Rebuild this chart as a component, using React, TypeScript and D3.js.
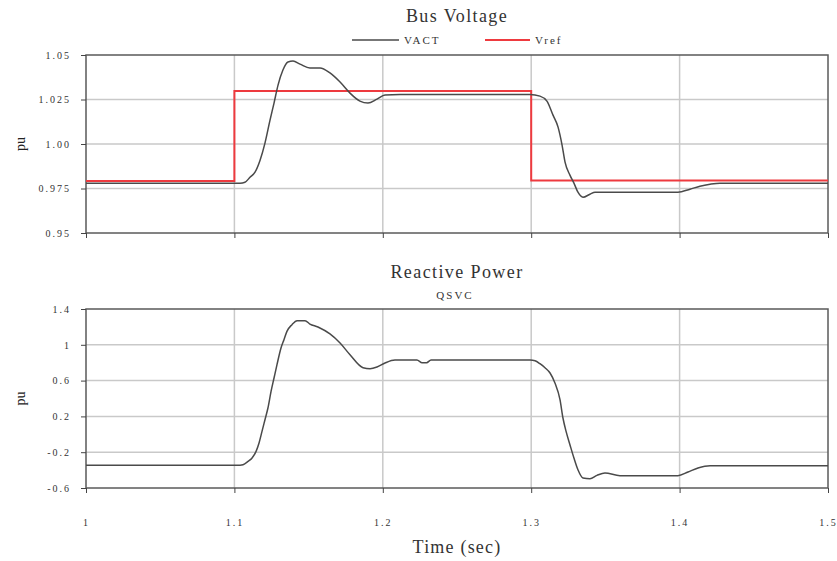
import React, { useRef, useEffect } from "react";
import * as d3 from "d3";

// time (s) / value (pu) pairs
const vactTime = [1.0, 1.1038, 1.1071, 1.1105, 1.1139, 1.1173, 1.1206, 1.124, 1.1267, 1.1294, 1.1327, 1.1361, 1.1395, 1.1442, 1.1509, 1.1577, 1.1644, 1.1712, 1.1779, 1.1846, 1.19, 1.1961, 1.2015, 1.2116, 1.2992, 1.3059, 1.3106, 1.3147, 1.3181, 1.3208, 1.3228, 1.3261, 1.3288, 1.3315, 1.3349, 1.3396, 1.343, 1.3989, 1.407, 1.4137, 1.4205, 1.4272, 1.5];
const vactValues = [0.978, 0.978, 0.9785, 0.9813, 0.9842, 0.9909, 1.0005, 1.0134, 1.023, 1.0331, 1.0416, 1.0461, 1.0466, 1.0449, 1.0427, 1.0427, 1.0399, 1.0348, 1.0286, 1.0241, 1.023, 1.0252, 1.0275, 1.0278, 1.0278, 1.0269, 1.0241, 1.0162, 1.0095, 0.9994, 0.9898, 0.9825, 0.978, 0.9729, 0.9701, 0.9718, 0.9729, 0.9729, 0.9746, 0.9763, 0.9774, 0.978, 0.978];

const vrefTime = [1.0, 1.1, 1.1, 1.3, 1.3, 1.5];
const vrefValues = [0.9792, 0.9792, 1.0298, 1.0298, 0.9795, 0.9795];

const qsvcTime = [1.0, 1.1038, 1.1058, 1.1092, 1.1119, 1.1146, 1.1166, 1.1186, 1.1206, 1.1226, 1.1247, 1.1267, 1.1287, 1.1314, 1.1334, 1.1354, 1.1388, 1.1422, 1.1476, 1.1509, 1.1563, 1.1644, 1.1712, 1.1779, 1.1867, 1.1914, 1.1961, 1.2015, 1.2082, 1.223, 1.2265, 1.2295, 1.2325, 1.2992, 1.3026, 1.3059, 1.3093, 1.3127, 1.316, 1.3194, 1.3214, 1.3235, 1.3261, 1.3288, 1.3315, 1.3349, 1.3396, 1.3443, 1.3497, 1.3598, 1.3989, 1.4057, 1.4124, 1.4205, 1.5];
const qsvcValues = [-0.345, -0.345, -0.34, -0.303, -0.265, -0.191, -0.097, 0.032, 0.163, 0.294, 0.479, 0.629, 0.778, 0.964, 1.057, 1.15, 1.225, 1.269, 1.269, 1.232, 1.199, 1.121, 1.02, 0.889, 0.744, 0.733, 0.752, 0.797, 0.83, 0.83, 0.8, 0.8, 0.83, 0.83, 0.822, 0.789, 0.744, 0.685, 0.573, 0.387, 0.182, 0.032, -0.116, -0.265, -0.396, -0.488, -0.496, -0.459, -0.432, -0.462, -0.462, -0.421, -0.377, -0.351, -0.35];

const timeTicks = [1, 1.1, 1.2, 1.3, 1.4, 1.5];
const timeLabels = ["1", "1.1", "1.2", "1.3", "1.4", "1.5"];
const voltTicks = [0.95, 0.975, 1.0, 1.025, 1.05];
const voltLabels = ["0.95", "0.975", "1.00", "1.025", "1.05"];
const qTicks = [-0.6, -0.2, 0.2, 0.6, 1.0, 1.4];
const qLabels = ["-0.6", "-0.2", "0.2", "0.6", "1", "1.4"];

const serif = "'Liberation Serif', 'DejaVu Serif', serif";

const App = () => {
  const svgRef = useRef<SVGSVGElement>(null);

  useEffect(() => {
    const w = 837;
    const h = 561;
    const left = 86;
    const right = 828;

    const svg = d3.select(svgRef.current).attr("width", w).attr("height", h).style("background", "#fff");
    svg.selectAll("*").remove();

    const x = d3.scaleLinear().domain([1, 1.5]).range([left, right]);

    const panel = (top: number, bottom: number, domain: [number, number], ticks: number[], labels: string[], showX: boolean) => {
      const y = d3.scaleLinear().domain(domain).range([bottom, top]);
      const g = svg.append("g");

      // grid
      g.selectAll(".hgrid")
        .data(ticks.slice(1, -1))
        .enter()
        .append("line")
        .attr("x1", left)
        .attr("x2", right)
        .attr("y1", (d) => y(d))
        .attr("y2", (d) => y(d))
        .attr("stroke", "#c9c9c9")
        .attr("stroke-width", 1.5);
      g.selectAll(".vgrid")
        .data(timeTicks.slice(1, -1))
        .enter()
        .append("line")
        .attr("x1", (d) => x(d))
        .attr("x2", (d) => x(d))
        .attr("y1", top)
        .attr("y2", bottom)
        .attr("stroke", "#c9c9c9")
        .attr("stroke-width", 1.5);

      // frame
      g.append("rect")
        .attr("x", left)
        .attr("y", top)
        .attr("width", right - left)
        .attr("height", bottom - top)
        .attr("fill", "none")
        .attr("stroke", "#5a5a5a")
        .attr("stroke-width", 1.5);

      // y ticks
      const yAxis = d3
        .axisLeft(y)
        .tickValues(ticks)
        .tickSize(5)
        .tickPadding(10)
        .tickFormat((_d, i) => labels[i]);
      const ya = g.append("g").attr("transform", `translate(${left},0)`).call(yAxis);
      ya.select(".domain").remove();
      ya.selectAll(".tick line").attr("stroke", "#444");
      ya.selectAll(".tick text")
        .attr("font-family", serif)
        .attr("font-size", 10)
        .attr("letter-spacing", 2)
        .attr("fill", "#333");

      // x ticks
      const xAxis = d3
        .axisBottom(x)
        .tickValues(timeTicks)
        .tickSize(5)
        .tickPadding(26)
        .tickFormat((_d, i) => (showX ? timeLabels[i] : ""));
      const xa = g.append("g").attr("transform", `translate(0,${bottom})`).call(xAxis);
      xa.select(".domain").remove();
      xa.selectAll(".tick line").attr("stroke", "#444");
      xa.selectAll(".tick text")
        .attr("font-family", serif)
        .attr("font-size", 10)
        .attr("letter-spacing", 2)
        .attr("fill", "#333");

      // y label
      g.append("text")
        .attr("transform", `translate(25,${(top + bottom) / 2}) rotate(-90)`)
        .attr("text-anchor", "middle")
        .attr("font-family", serif)
        .attr("font-size", 14)
        .attr("fill", "#222")
        .text("pu");

      return y;
    };

    // --- Bus Voltage ---
    const y1 = panel(55, 233, [0.95, 1.05], voltTicks, voltLabels, false);

    const line1 = d3
      .line<number>()
      .x((_d, i) => x(vrefTime[i]))
      .y((d) => y1(d));
    svg.append("path")
      .datum(vrefValues)
      .attr("d", line1)
      .attr("fill", "none")
      .attr("stroke", "#ee3a3f")
      .attr("stroke-width", 2);

    const lineAct = d3
      .line<number>()
      .x((_d, i) => x(vactTime[i]))
      .y((d) => y1(d))
      .curve(d3.curveMonotoneX);
    svg.append("path")
      .datum(vactValues)
      .attr("d", lineAct)
      .attr("fill", "none")
      .attr("stroke", "#4a4a4a")
      .attr("stroke-width", 1.5);

    svg.append("text")
      .attr("x", 457)
      .attr("y", 22)
      .attr("text-anchor", "middle")
      .attr("font-family", serif)
      .attr("font-size", 18)
      .attr("letter-spacing", 1.4)
      .attr("fill", "#333")
      .text("Bus Voltage");

    // legend
    svg.append("line").attr("x1", 352).attr("x2", 399).attr("y1", 40).attr("y2", 40).attr("stroke", "#4a4a4a").attr("stroke-width", 1.5);
    svg.append("text").attr("x", 404).attr("y", 44).attr("font-family", serif).attr("font-size", 11).attr("letter-spacing", 2).attr("fill", "#333").text("VACT");
    svg.append("line").attr("x1", 485).attr("x2", 530).attr("y1", 40).attr("y2", 40).attr("stroke", "#ee3a3f").attr("stroke-width", 2);
    svg.append("text").attr("x", 535).attr("y", 44).attr("font-family", serif).attr("font-size", 11).attr("letter-spacing", 2).attr("fill", "#333").text("Vref");

    // --- Reactive Power ---
    const y2 = panel(309, 488, [-0.6, 1.4], qTicks, qLabels, true);

    const lineQ = d3
      .line<number>()
      .x((_d, i) => x(qsvcTime[i]))
      .y((d) => y2(d))
      .curve(d3.curveMonotoneX);
    svg.append("path")
      .datum(qsvcValues)
      .attr("d", lineQ)
      .attr("fill", "none")
      .attr("stroke", "#4a4a4a")
      .attr("stroke-width", 1.5);

    svg.append("text")
      .attr("x", 457)
      .attr("y", 278)
      .attr("text-anchor", "middle")
      .attr("font-family", serif)
      .attr("font-size", 18)
      .attr("letter-spacing", 1.4)
      .attr("fill", "#333")
      .text("Reactive Power");
    svg.append("text")
      .attr("x", 455)
      .attr("y", 299)
      .attr("text-anchor", "middle")
      .attr("font-family", serif)
      .attr("font-size", 11)
      .attr("letter-spacing", 2)
      .attr("fill", "#333")
      .text("QSVC");

    svg.append("text")
      .attr("x", 457)
      .attr("y", 553)
      .attr("text-anchor", "middle")
      .attr("font-family", serif)
      .attr("font-size", 18)
      .attr("letter-spacing", 1.2)
      .attr("fill", "#333")
      .text("Time (sec)");
  }, []);

  return (
    <div style={{ position: "absolute", left: 0, top: 0 }}>
      <svg ref={svgRef} style={{ display: "block" }}></svg>
    </div>
  );
};

export default App;
